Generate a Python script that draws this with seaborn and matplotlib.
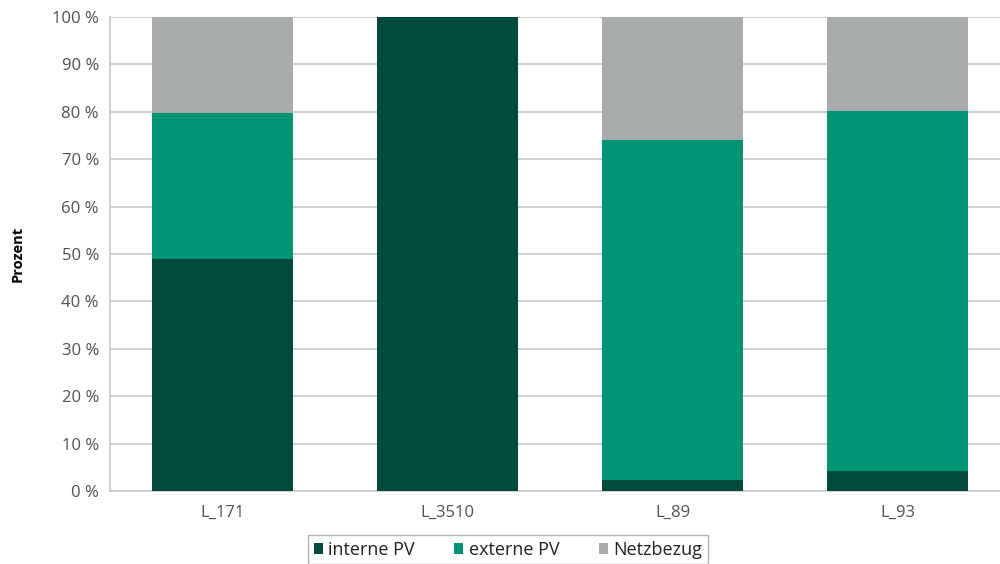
import matplotlib
matplotlib.use("Agg")
import matplotlib.pyplot as plt
import seaborn as sns
import pandas as pd
import numpy as np
from matplotlib.patches import Patch

# Anteile je Liegenschaft (Prozent)
standorte = ["L_171", "L_3510", "L_89", "L_93"]
interne_pv = [48.9, 100.0, 2.3, 4.2]
externe_pv = [30.8, 0.0, 71.7, 76.0]
netzbezug = [20.3, 0.0, 26.0, 19.8]
serien = ["interne PV", "externe PV", "Netzbezug"]
farben = ["#004b3b", "#009474", "#a9acac"]
y_ticks = list(range(0, 101, 10))

sns.set_theme(style="white")
plt.rcParams["font.family"] = ["Open Sans", "DejaVu Sans"]

df = pd.DataFrame({
    "Standort": standorte,
    "interne PV": interne_pv,
    "externe PV": externe_pv,
    "Netzbezug": netzbezug,
})
kum = df[serien].cumsum(axis=1)
kum["Standort"] = df["Standort"]

fig = plt.figure(figsize=(10, 5.64), dpi=100)
ax = fig.add_axes([0.11, 0.1294, 0.90, 0.8404])

# gestapelt: von oben nach unten übereinander zeichnen
for s, c in zip(serien[::-1], farben[::-1]):
    sns.barplot(data=kum, x="Standort", y=s, color=c, width=0.625,
                saturation=1, linewidth=0, edgecolor="none", ax=ax, zorder=3)

ax.set_ylim(0, 100)
ax.set_xlim(-0.5, 3.5)
ax.set_yticks(y_ticks)
ax.set_yticklabels([f"{t} %" for t in y_ticks])
ax.yaxis.grid(True, color="#c8c8c8", linewidth=1.2, zorder=0)
ax.set_axisbelow(True)
ax.tick_params(axis="both", length=0, labelsize=12, labelcolor="#505050", pad=8)
ax.tick_params(axis="x", pad=10)
ax.set_xlabel("")
ax.set_ylabel("Prozent", fontsize=10.5, fontweight="bold", color="black", labelpad=20)
for side in ["top", "right"]:
    ax.spines[side].set_visible(False)
for side in ["left", "bottom"]:
    ax.spines[side].set_color("#c8c8c8")
    ax.spines[side].set_linewidth(1.2)

handles = [Patch(facecolor=c, edgecolor="none") for c in farben]
leg = fig.legend(handles, serien, loc="center", bbox_to_anchor=(0.508, 0.025),
                 ncol=3, frameon=True, fancybox=False, edgecolor="#a0a0a0",
                 fontsize=13, handlelength=0.5, handleheight=0.5,
                 handletextpad=0.3, columnspacing=2.2, borderpad=0.3,
                 borderaxespad=0.0)
leg.get_frame().set_linewidth(1.0)
for t in leg.get_texts():
    t.set_color("#202020")

fig.savefig("out.png", dpi=100)
